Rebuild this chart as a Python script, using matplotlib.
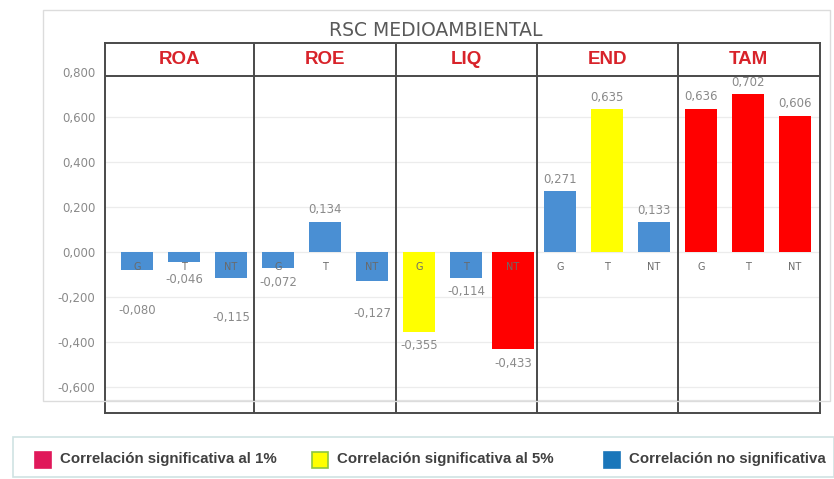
import matplotlib
matplotlib.use("Agg")
import matplotlib.pyplot as plt
from matplotlib.patches import Rectangle

# data
groups = ["ROA", "ROE", "LIQ", "END", "TAM"]
subcats = ["G", "T", "NT"]
values = [
    [-0.080, -0.046, -0.115],   # ROA
    [-0.072, 0.134, -0.127],    # ROE
    [-0.355, -0.114, -0.433],   # LIQ
    [0.271, 0.635, 0.133],      # END
    [0.636, 0.702, 0.606],      # TAM
]
# significance: 1 = 1%, 5 = 5%, 0 = not significant
signif = [
    [0, 0, 0],
    [0, 0, 0],
    [5, 0, 1],
    [0, 5, 0],
    [1, 1, 1],
]
yticks = [0.8, 0.6, 0.4, 0.2, 0.0, -0.2, -0.4, -0.6]
legend_labels = ["Correlación significativa al 1%",
                 "Correlación significativa al 5%",
                 "Correlación no significativa"]

bar_colors = {1: "#ff0000", 5: "#ffff00", 0: "#4a8fd3"}
frame = "#4a4a4a"
grey = "#8a8a8a"

W, H = 834, 479
fig = plt.figure(figsize=(W / 100, H / 100), dpi=100)

def fx(px):
    return px / W

def fy(py):
    return 1 - py / H

# outer chart box
fig.patches.append(Rectangle((fx(43), fy(401)), fx(830) - fx(43), fy(10) - fy(401),
                             transform=fig.transFigure, fill=False,
                             edgecolor="#dcdcdc", lw=1, zorder=0))

ax = fig.add_axes([fx(105), fy(413), fx(820) - fx(105), fy(43) - fy(413)])
ax.patch.set_alpha(0)
ymin, ymax = -0.7156, 0.929
head = 0.782
ax.set_xlim(-0.68, 14.53)
ax.set_ylim(ymin, ymax)

# gridlines
for t in yticks:
    if t < head:
        ax.axhline(t, color="#ececec", lw=0.9, zorder=0)
ax.axhline(-0.658, color="#e4e4e4", lw=0.9, zorder=0)

# bars
for g in range(len(groups)):
    for k in range(3):
        i = g * 3 + k
        v = values[g][k]
        w = 0.9 if (g == 2 and k == 2) else 0.68
        ax.bar(i, v, width=w, color=bar_colors[signif[g][k]], zorder=2)
        # category label just below zero
        ax.text(i, -0.068, subcats[k], ha="center", va="center", fontsize=7,
                color="#6a6a6a", zorder=3)
        # value label
        txt = f"{v:.3f}".replace(".", ",")
        pad = 12
        if v < 0 and (g, k) in [(0, 0), (0, 2)]:
            pad = 38
        if v < 0 and (g, k) == (1, 2):
            pad = 31
        if (g, k) == (0, 1):
            pad = 15
        if v >= 0:
            ax.annotate(txt, (i, v), xytext=(0, pad), textcoords="offset pixels",
                        ha="center", va="center", fontsize=8.5, color=grey)
        else:
            ax.annotate(txt, (i, v), xytext=(0, -pad - 2), textcoords="offset pixels",
                        ha="center", va="center", fontsize=8.5, color=grey)

# panel frame and header
for s in ax.spines.values():
    s.set_color(frame)
    s.set_linewidth(1.4)
for d in [2.5, 5.5, 8.5, 11.5]:
    ax.axvline(d, color=frame, lw=1.4, zorder=4)
ax.axhline(head, color=frame, lw=1.4, zorder=4)
edges = [-0.68, 2.5, 5.5, 8.5, 11.5, 14.53]
for g, name in enumerate(groups):
    ax.text((edges[g] + edges[g + 1]) / 2, (head + ymax) / 2, name,
            ha="center", va="center", fontsize=13.5, fontweight="bold",
            family="Liberation Sans", color="#d8232a")

ax.set_xticks([])
ax.set_yticks(yticks)
ax.set_yticklabels([f"{t:.3f}".replace(".", ",") for t in yticks])
ax.tick_params(axis="y", length=0, pad=7, labelsize=8.5, labelcolor=grey)

fig.text(fx(436), fy(31), "RSC MEDIOAMBIENTAL", ha="center", va="center",
         fontsize=13.5, color="#595959", family="DejaVu Sans")

# legend
fig.patches.append(Rectangle((fx(13), fy(477)), fx(834) - fx(13), fy(437) - fy(477),
                             transform=fig.transFigure, fill=False,
                             edgecolor="#cfe3e3", lw=1.2, zorder=0))
leg_colors = [("#e0185a", "#e0185a"), ("#ffff00", "#8cc63f"), ("#1a76ba", "#1a76ba")]
sq_x = [35, 312, 604]
for (fc, ec), x0, lab in zip(leg_colors, sq_x, legend_labels):
    fig.patches.append(Rectangle((fx(x0), fy(468)), fx(16), fy(452) - fy(468),
                                 transform=fig.transFigure, facecolor=fc,
                                 edgecolor=ec, lw=1.2))
    fig.text(fx(x0 + 25), fy(459), lab, ha="left", va="center", fontsize=10.8,
             fontweight="bold", family="Liberation Sans", color="#404040")

fig.savefig("out.png", dpi=100)
